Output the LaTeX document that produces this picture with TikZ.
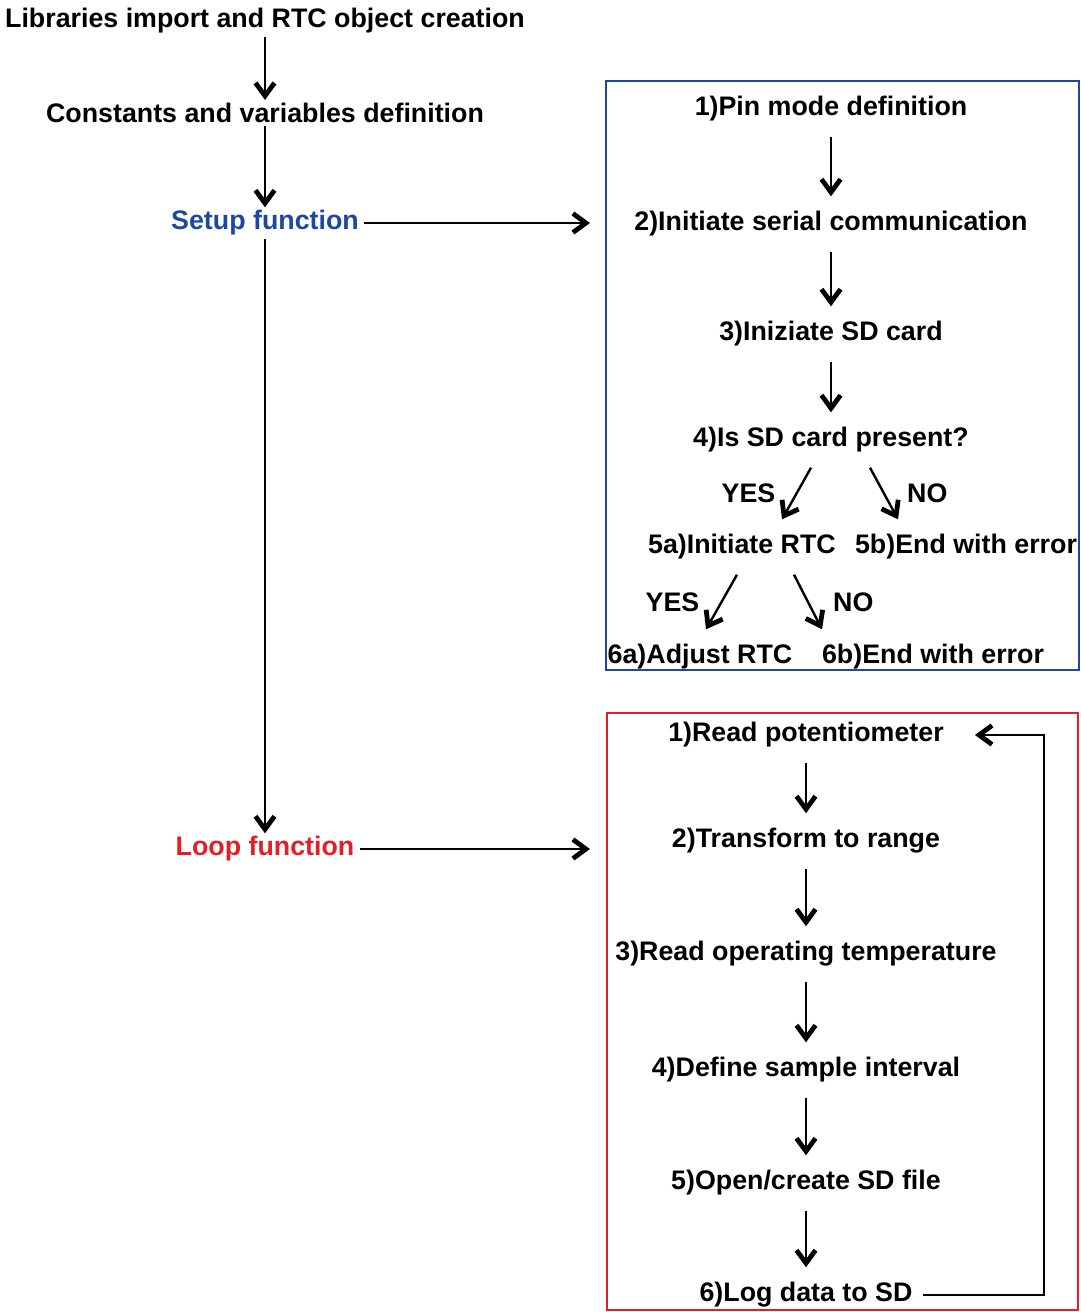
\documentclass[tikz,border=0pt]{standalone}
\usepackage{fontspec}
\setmainfont{Liberation Sans}
\usetikzlibrary{arrows.meta,positioning}
\definecolor{setupblue}{RGB}{30,72,160}
\definecolor{loopred}{RGB}{228,30,36}

\begin{document}
\begin{tikzpicture}[
	x=1pt,
	y=-1pt,
	on grid,
	font=\fontsize{26.8}{30}\selectfont\bfseries,
	task/.style={inner xsep=5pt, inner ysep=3pt},
	boxtask/.style={inner xsep=10pt, inner ysep=15pt},
	answer/.style={inner sep=0pt},
	flow/.style={
		-{Straight Barb[length=13pt,width=19pt,line width=4.8pt]},
		line width=2.4pt
	},
	frame/.style={line width=2pt}]

	\useasboundingbox (0,0) rectangle (1081,1312);

	\node[task] (libs) at (265,21) {Libraries import and RTC object creation};
	\node[task, below=92pt of libs] (consts) {Constants and variables definition};
	\node[task, below=110pt of consts, text=setupblue] (setup) {Setup function};
	\node[task, below=626pt of setup, text=loopred] (loop) {Loop function};

	\draw[frame, setupblue] (606,81) rectangle (1079,670);
	\node[boxtask] (pin) at (831,109) {1)Pin mode definition};
	\node[boxtask, below=115pt of pin] (serial) {2)Initiate serial communication};
	\node[boxtask, below=110pt of serial] (card) {3)Iniziate SD card};
	\node[boxtask, below=106pt of card] (present) {4)Is SD card present?};
	\node[boxtask] (rtc) at (742,547) {5a)Initiate RTC};
	\node[boxtask] (sderror) at (966,547) {5b)End with error};
	\node[boxtask] (adjust) at (700,657) {6a)Adjust RTC};
	\node[boxtask] (rtcerror) at (933,657) {6b)End with error};

	\draw[frame, loopred] (607,713) rectangle (1078,1310);
	\node[boxtask] (potread) at (806,735) {1)Read potentiometer};
	\node[boxtask, below=106pt of potread] (range) {2)Transform to range};
	\node[boxtask, below=113pt of range] (temp) {3)Read operating temperature};
	\node[boxtask, below=116pt of temp] (interval) {4)Define sample interval};
	\node[boxtask, below=113pt of interval] (sdfile) {5)Open/create SD file};
	\node[boxtask, below=112pt of sdfile] (logsd) {6)Log data to SD};

	\coordinate (setupin) at (590,220);
	\coordinate (loopin) at (590,845);
	\coordinate (loopback) at (1044,1292);

	\path[flow]
		(libs) edge (consts)
		(consts) edge (setup)
		(setup) edge (setup -| setupin)
		(setup) edge (loop)
		(loop) edge (loop -| loopin);
	\path[flow]
		(pin) edge (serial)
		(serial) edge (card)
		(card) edge (present)
		([xshift=-20pt]present.south) edge node[answer, left=20pt] {YES} ([xshift=40pt]rtc.north)
		([xshift=39pt]present.south) edge node[answer, right=22pt] {NO} ([xshift=-68pt]sderror.north)
		([xshift=-5pt]rtc.south) edge node[answer, left=21pt] {YES} ([xshift=6pt]adjust.north)
		([xshift=52pt]rtc.south) edge node[answer, right=24pt] {NO} ([xshift=-111pt]rtcerror.north);
	\path[flow]
		(potread) edge (range)
		(range) edge (temp)
		(temp) edge (interval)
		(interval) edge (sdfile)
		(sdfile) edge (logsd);
	\draw[flow, shorten >=21pt] (logsd) -- (logsd -| loopback) |- (potread);
\end{tikzpicture}
\end{document}
